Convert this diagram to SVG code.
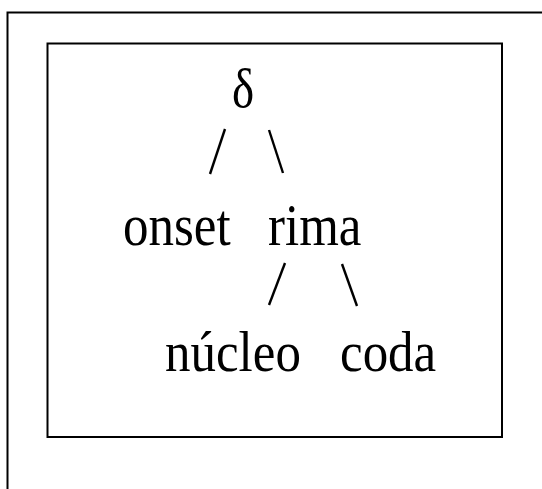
<svg xmlns="http://www.w3.org/2000/svg" width="542" height="489" viewBox="0 0 542 489">
<style>
.frame{fill:none;stroke:#000;stroke-width:2}
.t{font-family:"Liberation Serif","Times New Roman",serif;fill:#000}
.c{stroke:#000;stroke-width:2.4;stroke-linecap:butt}
</style>
<rect width="542" height="489" fill="#fff"/>
<path class="frame" d="M7.5,489 V12.5 H542"/>
<rect class="frame" x="47.5" y="43.5" width="454.5" height="393.5"/>
<g id="connectors">
<line class="c" x1="225" y1="129" x2="210" y2="174"/>
<line class="c" x1="269" y1="130" x2="283" y2="173"/>
<line class="c" x1="285" y1="263" x2="269" y2="305"/>
<line class="c" x1="342" y1="264" x2="357" y2="306"/>
</g>
<g id="delta"><text class="t" transform="translate(243,107) scale(1,1.15)" font-size="47" text-anchor="middle">δ</text></g>
<g id="onset"><text class="t" transform="translate(123,245) scale(1,1.15)" font-size="51">onset</text></g>
<g id="rima"><text class="t" transform="translate(268,245) scale(1,1.15)" font-size="51">rima</text></g>
<g id="nucleo"><text class="t" transform="translate(165,371) scale(1,1.12)" font-size="51">núcleo</text></g>
<g id="coda"><text class="t" transform="translate(340,371) scale(1,1.12)" font-size="51">coda</text></g>
</svg>
